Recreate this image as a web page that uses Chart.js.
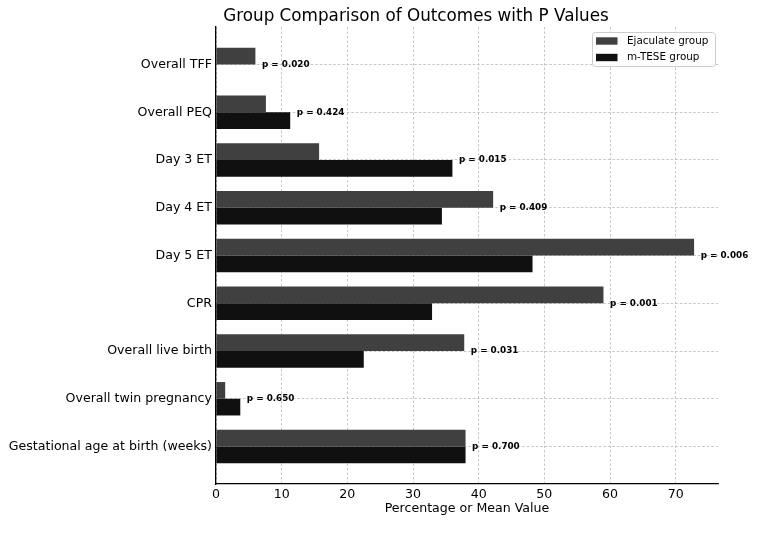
<!DOCTYPE html>
<html>
<head>
<meta charset="utf-8">
<script src="https://cdn.jsdelivr.net/npm/chart.js@4.4.1/dist/chart.umd.min.js"></script>
<style>
html,body{margin:0;padding:0;background:#fff;}
#wrap{width:783px;height:534px;position:relative;}
</style>
</head>
<body>
<div id="wrap"><canvas id="c" width="783" height="534"></canvas></div>
<script>
const categories = ['Overall TFF','Overall PEQ','Day 3 ET','Day 4 ET','Day 5 ET','CPR','Overall live birth','Overall twin pregnancy','Gestational age at birth (weeks)'];
const ejaculateValues = [6.0, 7.6, 15.7, 42.2, 72.8, 59.0, 37.8, 1.4, 38.0];
const mteseValues = [0, 11.3, 36.0, 34.4, 48.2, 32.9, 22.5, 3.7, 38.0];
const pValues = [0.020, 0.424, 0.015, 0.409, 0.006, 0.001, 0.031, 0.650, 0.700];
const seriesNames = ['Ejaculate group', 'm-TESE group'];
const seriesColors = ['#404040', '#101010'];
const xTicks = [0, 10, 20, 30, 40, 50, 60, 70];
const titleText = 'Group Comparison of Outcomes with P Values';
const xAxisTitle = 'Percentage or Mean Value';

const FONT = "'DejaVu Sans', sans-serif";

const pLabelPlugin = {
  id: 'pLabels',
  afterDatasetsDraw(chart) {
    const ctx = chart.ctx, xs = chart.scales.x, ys = chart.scales.y;
    ctx.save();
    ctx.font = "bold 8.8px " + FONT;
    ctx.fillStyle = '#000';
    ctx.textBaseline = 'middle';
    ctx.textAlign = 'left';
    categories.forEach((c, i) => {
      const v = Math.max(ejaculateValues[i], mteseValues[i]) + 1;
      ctx.fillText('p = ' + pValues[i].toFixed(3), xs.getPixelForValue(v), ys.getPixelForValue(i));
    });
    ctx.restore();
  }
};

const titleLegendPlugin = {
  id: 'titleLegend',
  afterDraw(chart) {
    const ctx = chart.ctx;
    ctx.save();
    ctx.font = "16.8px " + FONT;
    ctx.fillStyle = '#000';
    ctx.textAlign = 'center';
    ctx.textBaseline = 'alphabetic';
    ctx.fillText(titleText, 416, 21);
    const bx = 592.5, by = 32.5, bw = 123, bh = 34;
    ctx.beginPath();
    ctx.roundRect(bx, by, bw, bh, 3);
    ctx.fillStyle = 'rgba(255,255,255,0.85)';
    ctx.fill();
    ctx.strokeStyle = '#cccccc';
    ctx.lineWidth = 1;
    ctx.stroke();
    ctx.font = "10.4px " + FONT;
    ctx.textAlign = 'left';
    ctx.textBaseline = 'middle';
    const rows = [41, 57.5];
    seriesNames.forEach((n, i) => {
      ctx.fillStyle = seriesColors[i];
      ctx.fillRect(596, rows[i] - 3.7, 21.5, 7.4);
      ctx.fillStyle = '#000';
      ctx.fillText(n, 627, rows[i]);
    });
    ctx.restore();
  }
};

new Chart(document.getElementById('c'), {
  type: 'bar',
  data: {
    datasets: [
      { label: seriesNames[0], data: ejaculateValues.map((v, i) => ({x: v, y: i})), backgroundColor: seriesColors[0], borderWidth: 0 },
      { label: seriesNames[1], data: mteseValues.map((v, i) => ({x: v, y: i})), backgroundColor: seriesColors[1], borderWidth: 0 }
    ]
  },
  options: {
    indexAxis: 'y',
    responsive: false,
    animation: false,
    events: [],
    categoryPercentage: 0.7,
    barPercentage: 1.0,
    layout: { padding: { top: 27, right: 65, left: 0, bottom: 0 } },
    plugins: { legend: { display: false }, title: { display: false }, tooltip: { enabled: false } },
    scales: {
      x: {
        type: 'linear',
        position: 'bottom',
        min: 0,
        max: 76.44,
        offset: false,
        afterBuildTicks(s) { s.ticks = xTicks.map(v => ({value: v})); },
        afterFit(s) { s.height = 50; },
        grid: { color: '#b8b8b8', lineWidth: 0.8, drawTicks: false, offset: false },
        border: { display: true, color: '#000', width: 1.3, dash: [2.5, 2] },
        ticks: { color: '#000', font: { family: FONT, size: 12.6 }, padding: 3, maxRotation: 0 },
        title: { display: true, text: xAxisTitle, color: '#000', font: { family: FONT, size: 12.6 }, padding: { top: 18, bottom: 18 } }
      },
      y: {
        type: 'linear',
        position: 'left',
        reverse: true,
        min: -0.785,
        max: 8.785,
        offset: false,
        afterBuildTicks(s) { s.ticks = categories.map((c, i) => ({value: i})); },
        afterFit(s) { s.width = 216; },
        grid: { color: '#b8b8b8', lineWidth: 0.8, drawTicks: false, offset: false },
        border: { display: true, color: '#000', width: 1.3, dash: [2.5, 2] },
        ticks: { color: '#000', font: { family: FONT, size: 12.6 }, padding: 4, autoSkip: false, callback: (v) => categories[v] }
      }
    }
  },
  plugins: [pLabelPlugin, titleLegendPlugin]
});
</script>
</body>
</html>
